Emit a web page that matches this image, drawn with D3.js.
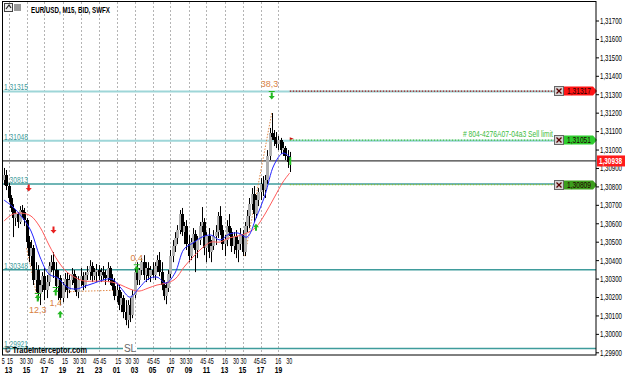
<!DOCTYPE html>
<html>
<head>
<meta charset="utf-8">
<script src="https://cdn.jsdelivr.net/npm/d3@7"></script>
<style>
  body { margin: 0; background: #fff; }
  svg { display: block; font-family: "Liberation Sans", Arial, sans-serif; }
</style>
</head>
<body>
<script>
// EUR/USD M15 candles (bar 0 = 12:30)
const opens = [
  1.30835,1.30862,1.30802,1.30737,1.30683,1.30628,1.30650,1.30607,1.30672,1.30661,
  1.30617,1.30498,1.30422,1.30465,1.30292,1.30346,1.30216,1.30265,1.30313,1.30237,
  1.30281,1.30368,1.30389,1.30346,1.30259,1.30303,1.30194,1.30265,1.30297,1.30237,
  1.30292,1.30324,1.30275,1.30227,1.30292,1.30313,1.30265,1.30319,1.30335,1.30368,
  1.30313,1.30335,1.30346,1.30313,1.30335,1.30319,1.30303,1.30357,1.30292,1.30259,
  1.30205,1.30237,1.30156,1.30194,1.30118,1.30075,1.30156,1.30102,1.30210,1.30335,
  1.30292,1.30346,1.30389,1.30319,1.30357,1.30313,1.30346,1.30319,1.30368,1.30400,
  1.30335,1.30265,1.30205,1.30248,1.30324,1.30422,1.30476,1.30520,1.30563,1.30650,
  1.30552,1.30585,1.30487,1.30422,1.30498,1.30541,1.30455,1.30509,1.30585,1.30607,
  1.30465,1.30531,1.30444,1.30476,1.30531,1.30552,1.30639,1.30563,1.30487,1.30509,
  1.30585,1.30552,1.30476,1.30531,1.30455,1.30487,1.30541,1.30444,1.30585,1.30639,
  1.30704,1.30759,1.30650,1.30726,1.30769,1.30813,1.30780,1.30835,1.30965,1.31090,
  1.31068,1.31052,1.31030,1.31052,1.30997,1.31008,1.30965,1.30932
];
const highs = [
  1.30900,1.30889,1.30818,1.30753,1.30704,1.30672,1.30661,1.30693,1.30699,1.30683,
  1.30628,1.30531,1.30509,1.30482,1.30389,1.30373,1.30292,1.30335,1.30357,1.30319,
  1.30389,1.30427,1.30444,1.30389,1.30346,1.30319,1.30281,1.30330,1.30335,1.30319,
  1.30357,1.30346,1.30313,1.30313,1.30357,1.30335,1.30335,1.30368,1.30400,1.30389,
  1.30357,1.30379,1.30373,1.30357,1.30368,1.30346,1.30389,1.30368,1.30324,1.30303,
  1.30270,1.30265,1.30227,1.30210,1.30183,1.30183,1.30194,1.30237,1.30357,1.30389,
  1.30357,1.30411,1.30427,1.30389,1.30389,1.30368,1.30389,1.30389,1.30427,1.30444,
  1.30389,1.30292,1.30281,1.30346,1.30455,1.30509,1.30552,1.30590,1.30672,1.30683,
  1.30607,1.30617,1.30536,1.30520,1.30574,1.30563,1.30531,1.30607,1.30688,1.30628,
  1.30552,1.30574,1.30509,1.30563,1.30590,1.30661,1.30693,1.30590,1.30536,1.30617,
  1.30650,1.30574,1.30552,1.30563,1.30509,1.30574,1.30563,1.30607,1.30672,1.30737,
  1.30791,1.30802,1.30753,1.30791,1.30845,1.30856,1.30862,1.30997,1.31117,1.31198,
  1.31106,1.31095,1.31073,1.31063,1.31041,1.31019,1.30997,1.30987
];
const lows = [
  1.30807,1.30780,1.30715,1.30661,1.30525,1.30585,1.30574,1.30596,1.30628,1.30585,
  1.30465,1.30389,1.30368,1.30265,1.30227,1.30183,1.30156,1.30227,1.30183,1.30194,
  1.30259,1.30335,1.30303,1.30227,1.30183,1.30156,1.30172,1.30227,1.30194,1.30221,
  1.30265,1.30237,1.30205,1.30194,1.30259,1.30237,1.30248,1.30292,1.30292,1.30281,
  1.30292,1.30281,1.30292,1.30281,1.30292,1.30265,1.30281,1.30265,1.30237,1.30183,
  1.30172,1.30129,1.30118,1.30085,1.30047,1.30031,1.30064,1.30085,1.30194,1.30265,
  1.30265,1.30319,1.30292,1.30281,1.30292,1.30281,1.30303,1.30292,1.30335,1.30313,
  1.30237,1.30183,1.30161,1.30227,1.30303,1.30389,1.30444,1.30487,1.30541,1.30531,
  1.30487,1.30455,1.30389,1.30400,1.30465,1.30335,1.30411,1.30482,1.30552,1.30427,
  1.30389,1.30411,1.30389,1.30455,1.30482,1.30520,1.30536,1.30455,1.30422,1.30476,
  1.30531,1.30444,1.30433,1.30411,1.30389,1.30455,1.30422,1.30422,1.30552,1.30574,
  1.30672,1.30607,1.30628,1.30693,1.30726,1.30748,1.30737,1.30813,1.30943,1.31052,
  1.31019,1.31008,1.30997,1.30976,1.30965,1.30943,1.30900,1.30878
];
const closes = [
  1.30862,1.30802,1.30737,1.30683,1.30628,1.30650,1.30607,1.30672,1.30661,1.30617,
  1.30498,1.30422,1.30465,1.30292,1.30346,1.30216,1.30265,1.30313,1.30237,1.30281,
  1.30368,1.30389,1.30346,1.30259,1.30303,1.30194,1.30265,1.30297,1.30237,1.30292,
  1.30324,1.30275,1.30227,1.30292,1.30313,1.30265,1.30319,1.30335,1.30368,1.30313,
  1.30335,1.30346,1.30313,1.30335,1.30319,1.30303,1.30357,1.30292,1.30259,1.30205,
  1.30237,1.30156,1.30194,1.30118,1.30075,1.30156,1.30102,1.30210,1.30335,1.30292,
  1.30346,1.30389,1.30319,1.30357,1.30313,1.30346,1.30319,1.30368,1.30400,1.30335,
  1.30265,1.30205,1.30248,1.30324,1.30422,1.30476,1.30520,1.30563,1.30650,1.30552,
  1.30585,1.30487,1.30422,1.30498,1.30541,1.30455,1.30509,1.30585,1.30607,1.30465,
  1.30531,1.30444,1.30476,1.30531,1.30552,1.30639,1.30563,1.30487,1.30509,1.30585,
  1.30552,1.30476,1.30531,1.30455,1.30487,1.30541,1.30444,1.30585,1.30639,1.30704,
  1.30759,1.30650,1.30726,1.30769,1.30813,1.30780,1.30835,1.30965,1.31090,1.31068,
  1.31052,1.31030,1.31052,1.30997,1.31008,1.30965,1.30932,1.30938
];

// moving averages, read every 4th bar
const maBars = [0,4,8,12,16,20,24,28,32,36,40,44,48,52,56,60,64,68,72,76,80,84,88,92,96,100,104,108,112,116,120,124,127];
const fastMA = [1.30726,1.30688,1.30634,1.30558,1.30417,1.30324,1.30303,1.30254,1.30243,1.30259,1.30275,1.30292,1.30297,
  1.30248,1.30199,1.30248,1.30297,1.30308,1.30275,1.30330,1.30460,1.30493,1.30525,1.30536,1.30509,1.30541,1.30547,
  1.30525,1.30628,1.30753,1.30916,1.30981,1.30960];
const slowMA = [1.30612,1.30650,1.30655,1.30639,1.30579,1.30482,1.30395,1.30335,1.30303,1.30286,1.30286,1.30286,1.30281,
  1.30265,1.30243,1.30232,1.30248,1.30265,1.30275,1.30297,1.30362,1.30417,1.30465,1.30498,1.30498,1.30520,1.30531,
  1.30547,1.30579,1.30650,1.30737,1.30824,1.30873];

// zigzag pieces [bar, price]
const zigzag = [
  [[10, 1.30465], [15, 1.30183]],
  [[24, 1.30227], [50, 1.30237]],
  [[107, 1.30422], [119, 1.31198]]
];
const fiboTexts = ["12,3", "1,4", "0,4", "38,3"];
const fiboBars = [15, 23, 59, 118];
const fiboPrices = [1.30129, 1.30167, 1.30411, 1.31355];

// signal arrows
const sellBars = [11, 22];
const sellPrices = [1.30791, 1.30563];
const buyBars = [25, 112];
const buyPrices = [1.30107, 1.30579];
const buyTBars = [15, 23, 59];
const buyTPrices = [1.30194, 1.30227, 1.30351];
const exitTBars = [119];
const exitTPrices = [1.31290];

// horizontal levels
const upperLevels = [1.31315, 1.31048];
const lowerLevels = [1.30813, 1.30348, 1.29921];
const lastPrice = 1.30938;
const orderPrices = [1.31317, 1.31051, 1.30809];
const orderComment = "# 804-4276A07-04a3 Sell limit";

// axes
const priceTicks = [1.299,1.300,1.301,1.302,1.303,1.304,1.305,1.306,1.307,1.308,1.309,1.310,1.311,1.312,1.313,1.314,1.315,1.316,1.317];
const hourLabels = ["13","15","17","19","21","23","01","03","05","07","09","11","13","15","17","19"];
const hourBars = [2,10,18,26,34,42,50,58,66,74,82,90,98,106,114,122];
const minuteLabels = ["5","15","30","30","45","45","15","30","30","45","45","15","30","30","45","45","16","30","30","45","45","16","30","30","45","45","16","30"];
const minuteBars = [-0.3,2.7,8.3,11.6,17.2,20.8,27.1,32,35.2,40.9,44.1,50.8,55.2,58.7,64.9,67.9,74.5,79.4,82.4,88.6,91.9,98.2,103.1,106.4,112.3,115.2,121.9,126.8];

const W = 625, H = 378;
const plotL = 2, plotR = 596, plotT = 2, plotB = 355;

const x = d3.scaleLinear().domain([0, 264]).range([4, 598]);
const y = d3.scaleLinear().domain([1.299, 1.317]).range([352.3, 20.5]);
const fmt = v => d3.format(".5f")(v).replace(".", ",");

// squeeze a text to the width it has in the picture
const fit = (sel, w) => sel.attr("textLength", w).attr("lengthAdjust", "spacingAndGlyphs");

const svg = d3.select("body").append("svg")
  .attr("width", W).attr("height", H);

svg.append("rect").attr("width", W).attr("height", H).attr("fill", "#fff");

svg.append("clipPath").attr("id", "plot")
  .append("rect").attr("x", plotL).attr("y", plotT).attr("width", plotR - plotL).attr("height", plotB - plotT);

const plot = svg.append("g").attr("clip-path", "url(#plot)");

// vertical grid
plot.selectAll(".vgrid").data(hourBars).enter().append("line")
  .attr("x1", d => Math.round(x(d)) + 0.5).attr("x2", d => Math.round(x(d)) + 0.5)
  .attr("y1", plotT).attr("y2", plotB)
  .attr("stroke", "#b4b4b4").attr("stroke-dasharray", "2,2");

// level lines
plot.selectAll(".up").data(upperLevels).enter().append("line")
  .attr("x1", plotL).attr("x2", plotR)
  .attr("y1", d => y(d)).attr("y2", d => y(d))
  .attr("stroke", "#9ed6d8").attr("stroke-width", 2);
plot.selectAll(".lo").data(lowerLevels).enter().append("line")
  .attr("x1", plotL).attr("x2", plotR)
  .attr("y1", d => y(d)).attr("y2", d => y(d))
  .attr("stroke", "#3f9c9c").attr("stroke-width", 1.4);

plot.selectAll(".lvlText").data(upperLevels.concat(lowerLevels)).enter().append("text")
  .attr("x", 4).attr("y", d => y(d) - 1)
  .attr("font-size", 9).attr("fill", "#3f9c9c")
  .text(d => fmt(d))
  .call(fit, 24);

// SL mark on the lowest level
const slX = x(56);
plot.append("rect").attr("x", slX - 7).attr("y", y(lowerLevels[2]) - 2).attr("width", 14).attr("height", 4).attr("fill", "#fff");
plot.append("text").attr("x", slX).attr("y", y(lowerLevels[2]) + 3.5)
  .attr("text-anchor", "middle").attr("font-size", 10).attr("fill", "#666").text("SL");

// last price line
plot.append("line").attr("x1", plotL).attr("x2", plotR)
  .attr("y1", y(lastPrice)).attr("y2", y(lastPrice))
  .attr("stroke", "#3c3c3c").attr("stroke-width", 1.3);

// zigzag
plot.selectAll(".zz").data(zigzag).enter().append("line")
  .attr("x1", d => x(d[0][0])).attr("y1", d => y(d[0][1]))
  .attr("x2", d => x(d[1][0])).attr("y2", d => y(d[1][1]))
  .attr("stroke", "#e08a4a").attr("stroke-width", 1).attr("stroke-dasharray", "1.5,1.5");

// candles
const bars = d3.range(closes.length);
plot.selectAll(".wick").data(bars).enter().append("line")
  .attr("x1", i => Math.round(x(i)) + 0.5).attr("x2", i => Math.round(x(i)) + 0.5)
  .attr("y1", i => y(highs[i])).attr("y2", i => y(lows[i]))
  .attr("stroke", "#000").attr("stroke-width", 1);
plot.selectAll(".body").data(bars).enter().append("rect")
  .attr("x", i => Math.round(x(i)) - 1)
  .attr("width", 3)
  .attr("y", i => y(Math.max(opens[i], closes[i])))
  .attr("height", i => Math.max(1, Math.abs(y(opens[i]) - y(closes[i]))))
  .attr("fill", i => closes[i] >= opens[i] ? "#b0b0b0" : "#000")
  .attr("shape-rendering", "crispEdges");

// moving averages
const maLine = vals => d3.line().curve(d3.curveCatmullRom)
  .x((d, k) => x(maBars[k])).y(d => y(d))(vals);
plot.append("path").attr("d", maLine(slowMA)).attr("fill", "none").attr("stroke", "#ff5a5a").attr("stroke-width", 1);
plot.append("path").attr("d", maLine(fastMA)).attr("fill", "none").attr("stroke", "#2424ff").attr("stroke-width", 1);

// arrows
const upArrow = "M0,-3.5 L3,0 L1,0 L1,3.5 L-1,3.5 L-1,0 L-3,0 Z";
const downArrow = "M0,3.5 L3,0 L1,0 L1,-3.5 L-1,-3.5 L-1,0 L-3,0 Z";
plot.selectAll(".sell").data(sellBars).enter().append("path")
  .attr("transform", (d, k) => `translate(${x(d)},${y(sellPrices[k])})`)
  .attr("d", downArrow).attr("fill", "#e82020");
plot.selectAll(".buy").data(buyBars).enter().append("path")
  .attr("transform", (d, k) => `translate(${x(d)},${y(buyPrices[k])})`)
  .attr("d", upArrow).attr("fill", "#22b822");
plot.selectAll(".buyT").data(buyTBars).enter().append("path")
  .attr("transform", (d, k) => `translate(${x(d)},${y(buyTPrices[k])})`)
  .attr("d", upArrow + " M-3,-5 L3,-5 L3,-4 L-3,-4 Z").attr("fill", "#22b822");
plot.selectAll(".exitT").data(exitTBars).enter().append("path")
  .attr("transform", (d, k) => `translate(${x(d)},${y(exitTPrices[k])})`)
  .attr("d", downArrow + " M-3,-5 L3,-5 L3,-4 L-3,-4 Z").attr("fill", "#22b822");

// fibo labels
plot.selectAll(".fibo").data(fiboTexts).enter().append("text")
  .attr("x", (d, k) => x(fiboBars[k])).attr("y", (d, k) => y(fiboPrices[k]) + 3)
  .attr("text-anchor", "middle").attr("font-size", 9).attr("fill", "#d9813f")
  .text(d => d);

// marker on the last bar
const lastBar = closes.length - 1;
plot.append("rect").attr("x", x(lastBar) - 0.5).attr("y", y(lastPrice) - 4).attr("width", 2).attr("height", 8).attr("fill", "#22c422");
plot.append("path").attr("d", `M${x(lastBar)},${y(orderPrices[1]) - 3} l4,1.5 l-4,1.5 Z`).attr("fill", "#d01010");

// pending orders
const orderDots = ["#a01010", "#3cc43c", "#8ac020"];
const tagFill = ["#ff1414", "#2ecc2e", "#3c9e1c"];
plot.selectAll(".ord").data(orderPrices).enter().append("line")
  .attr("x1", x(lastBar)).attr("x2", 555)
  .attr("y1", d => y(d)).attr("y2", d => y(d))
  .attr("stroke", (d, k) => orderDots[k]).attr("stroke-width", 1.2).attr("stroke-dasharray", "1.5,1.5");

plot.append("text").attr("x", 463).attr("y", y(orderPrices[1]) - 3)
  .attr("font-size", 8.5).attr("fill", "#3cbc3c")
  .text(orderComment)
  .call(fit, 90);

const tags = svg.selectAll(".tag").data(orderPrices).enter().append("g")
  .attr("transform", d => `translate(0,${Math.round(y(d))})`);
tags.append("rect").attr("x", 554.5).attr("y", -4.5).attr("width", 9).attr("height", 9)
  .attr("fill", "#d4d4d4").attr("stroke", "#666");
tags.append("path").attr("d", "M556.5,-2.5 L561.5,2.5 M561.5,-2.5 L556.5,2.5")
  .attr("stroke", "#5a0000").attr("stroke-width", 1.3);
tags.append("path").attr("d", "M564,-4.5 L593,-4.5 L597,0 L593,4.5 L564,4.5 Z")
  .attr("fill", (d, k) => tagFill[k]);
tags.append("text").attr("x", 567).attr("y", 3.3)
  .attr("font-size", 9).attr("fill", "#200").text(d => fmt(d))
  .call(fit, 24);

// frame
svg.append("rect").attr("x", plotL + 0.5).attr("y", plotT - 0.5).attr("width", plotR - plotL - 0.5).attr("height", plotB - plotT + 0.5)
  .attr("fill", "none").attr("stroke", "#000").attr("stroke-width", 1);

// right price axis
const yAxis = svg.append("g").attr("transform", `translate(${plotR},0)`)
  .call(d3.axisRight(y).tickValues(priceTicks).tickSize(3).tickPadding(1).tickFormat(fmt));
yAxis.select(".domain").remove();
yAxis.selectAll("text").attr("font-size", 9).attr("fill", "#000").attr("font-family", null)
  .call(fit, 22);
yAxis.selectAll("line").attr("stroke", "#000");

// last price label
svg.append("rect").attr("x", 597).attr("y", y(lastPrice) - 5.5).attr("width", 28).attr("height", 11).attr("fill", "#ff1a1a");
svg.append("text").attr("x", 599).attr("y", y(lastPrice) + 3.3)
  .attr("font-size", 9).attr("font-weight", "bold").attr("fill", "#fff").text(fmt(lastPrice))
  .call(fit, 23);

// time axis
svg.selectAll(".min").data(minuteLabels).enter().append("text")
  .attr("x", (d, k) => x(minuteBars[k])).attr("y", 364)
  .attr("text-anchor", "middle").attr("font-size", 8.5).attr("fill", "#000")
  .text(d => d)
  .each(function(d) { d3.select(this).call(fit, d.length * 3); });
svg.selectAll(".hour").data(hourLabels).enter().append("text")
  .attr("x", (d, k) => x(hourBars[k])).attr("y", 373)
  .attr("text-anchor", "middle").attr("font-size", 9).attr("font-weight", "bold").attr("fill", "#000")
  .text(d => d)
  .call(fit, 7.5);

// title, icons, watermark
svg.append("rect").attr("x", 4.5).attr("y", 3.5).attr("width", 8).attr("height", 8).attr("fill", "#eee").attr("stroke", "#444");
svg.append("path").attr("d", "M6,9 L9,5 L11,8").attr("fill", "none").attr("stroke", "#222").attr("stroke-width", 1.2);
svg.append("rect").attr("x", 14).attr("y", 4).attr("width", 7).attr("height", 7).attr("fill", "#9a9a9a");
svg.append("text").attr("x", 31).attr("y", 12.5).attr("font-size", 9.5).attr("font-weight", "bold")
  .attr("fill", "#000").text("EUR/USD, M15, BID, SWFX")
  .call(fit, 79);
svg.append("text").attr("x", 5).attr("y", 353).attr("font-size", 9.5).attr("font-weight", "bold")
  .attr("fill", "#000").text("© TradeInterceptor.com")
  .call(fit, 82);
</script>
</body>
</html>
